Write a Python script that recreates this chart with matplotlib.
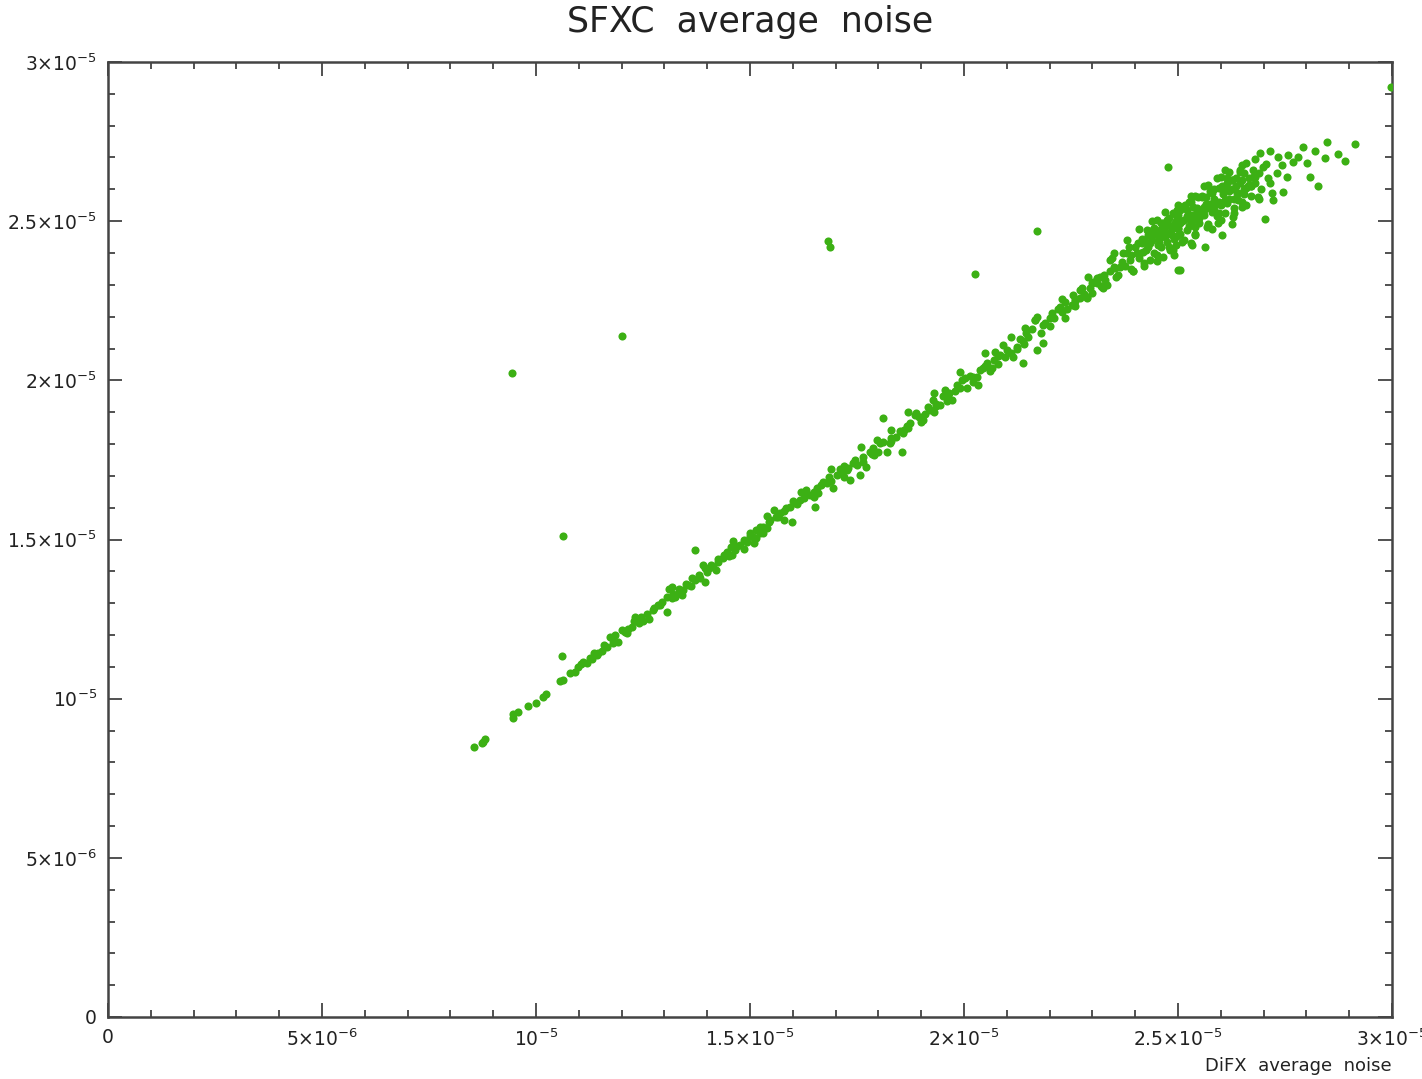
import matplotlib
matplotlib.use("Agg")
import matplotlib.pyplot as plt
from matplotlib.ticker import MultipleLocator, FixedLocator, FixedFormatter
import numpy as np

# valores em unidades de 1e-6 (DiFX no eixo x, SFXC no eixo y)
low_x = [8.54, 8.75, 8.81, 8.73, 9.47, 9.47, 9.59, 9.82, 10.00, 10.17, 10.23,
         10.56, 10.64, 10.79, 10.91, 10.99, 11.18, 11.26, 11.42, 11.65, 11.77,
         11.92, 12.12, 11.81, 11.73, 11.85, 12.08, 12.24, 12.31, 12.41, 12.65,
         12.74, 12.94, 13.05, 13.17, 13.17, 13.33, 13.44, 13.56, 13.71, 13.83,
         13.95, 13.99, 14.14, 14.26, 14.38, 14.46, 14.65, 14.77, 14.92, 15.08,
         15.23, 15.39, 14.57, 11.05, 11.35, 11.55, 12.50, 12.85, 13.25, 13.62,
         14.05, 14.50, 14.85, 15.15]
low_y = [8.47, 8.63, 8.73, 8.60, 9.38, 9.52, 9.59, 9.77, 9.86, 10.04, 10.15,
         10.56, 10.59, 10.80, 10.85, 11.01, 11.11, 11.27, 11.37, 11.63, 11.90,
         11.79, 12.05, 11.74, 11.95, 12.00, 12.10, 12.26, 12.56, 12.37, 12.49,
         12.79, 13.05, 12.73, 13.52, 13.15, 13.31, 13.42, 13.57, 13.73, 13.78,
         13.68, 13.99, 14.15, 14.30, 14.41, 14.62, 14.67, 14.83, 14.93, 15.09,
         15.20, 15.35, 14.51, 11.08, 11.42, 11.50, 12.45, 12.95, 13.20, 13.55,
         14.10, 14.48, 14.70, 15.05]

low2_x = [12.00, 12.15, 12.30, 12.45, 12.60, 12.75, 12.90, 13.05, 13.20, 13.35,
          13.50, 13.65, 13.80, 13.95, 14.10, 14.25, 14.40, 14.55, 14.70, 14.85,
          15.00, 15.15, 15.30, 11.60, 11.45, 11.30, 11.10]
low2_y = [12.15, 12.20, 12.45, 12.55, 12.65, 12.85, 12.95, 13.20, 13.30, 13.45,
          13.60, 13.80, 13.90, 14.10, 14.20, 14.40, 14.50, 14.75, 14.80, 15.00,
          15.10, 15.30, 15.40, 11.70, 11.45, 11.25, 11.15]

mid_x = [15.00, 15.23, 15.47, 15.70, 15.97, 15.93, 16.17, 16.40, 16.52, 16.56,
         16.79, 16.95, 17.03, 17.26, 17.41, 17.57, 17.65, 17.88, 18.04, 18.19,
         18.54, 18.42, 18.66, 15.55, 16.32, 17.34, 17.72, 17.96, 15.31, 18.27,
         18.58, 18.74, 18.89, 19.05, 19.21, 19.28, 19.44, 19.56, 19.71, 19.83,
         20.02, 20.06, 20.33, 20.37, 20.53, 20.69, 20.72, 20.92, 20.96, 21.15,
         21.23, 21.39, 21.39, 21.46, 21.66, 21.70, 21.85, 21.89, 15.80, 16.05,
         16.65, 16.90, 17.15, 17.50, 18.30, 18.95, 19.35, 19.62, 20.20, 20.85,
         15.60, 16.25, 17.80, 19.10, 20.45]
mid_y = [15.20, 15.40, 15.61, 15.82, 15.56, 16.03, 16.24, 16.40, 16.01, 16.61,
         16.77, 16.61, 17.03, 17.18, 17.40, 17.03, 17.60, 17.87, 18.02, 17.76,
         17.76, 18.23, 18.55, 15.93, 16.56, 16.87, 17.29, 18.13, 15.20, 18.02,
         18.34, 18.65, 18.97, 18.76, 19.07, 19.38, 19.23, 19.70, 19.38, 19.86,
         20.07, 19.75, 19.86, 20.33, 20.54, 20.64, 20.90, 21.11, 20.74, 20.74,
         21.06, 21.22, 20.54, 21.48, 21.90, 20.96, 21.17, 21.79, 15.90, 16.15,
         16.70, 16.85, 17.08, 17.35, 18.20, 18.85, 19.25, 19.55, 20.10, 20.80,
         15.70, 16.30, 17.75, 18.95, 20.40]

mid2_x = [15.45, 15.65, 15.85, 16.10, 16.30, 16.50, 16.70, 16.85, 17.10, 17.30,
          17.45, 17.65, 17.85, 18.10, 18.30, 18.50, 18.70, 18.85, 19.00, 19.15,
          19.35, 19.50, 19.65, 19.80, 19.95, 20.15, 20.30, 20.50, 20.65, 20.80,
          21.00, 21.10, 21.30, 21.50, 21.60, 21.80, 22.00, 16.00, 16.60, 17.20,
          17.90, 18.60, 19.30, 19.90, 20.60, 21.25]
mid2_y = [15.55, 15.70, 16.00, 16.10, 16.45, 16.50, 16.80, 16.95, 17.20, 17.25,
          17.50, 17.45, 17.70, 18.05, 18.10, 18.40, 18.50, 18.90, 18.85, 19.15,
          19.20, 19.50, 19.60, 19.65, 20.00, 20.15, 20.10, 20.45, 20.40, 20.75,
          20.95, 20.85, 21.30, 21.35, 21.60, 21.50, 21.95, 16.20, 16.45, 17.30,
          17.65, 18.45, 19.00, 19.75, 20.30, 21.00]

mid3_x = [13.10, 13.40, 13.90, 14.20, 14.60, 15.10, 15.40, 15.80, 16.20, 16.50,
          16.90, 17.20, 17.60, 18.00, 18.30, 18.70, 19.00, 19.30, 19.60, 19.90,
          20.20, 20.50, 20.80, 21.10, 21.40, 21.70, 22.00, 22.30, 22.60, 22.90,
          23.20]
mid3_y = [13.45, 13.25, 14.20, 14.05, 14.95, 14.90, 15.75, 15.60, 16.50, 16.35,
          17.20, 16.95, 17.90, 17.75, 18.45, 19.00, 18.70, 19.60, 19.35, 20.25,
          19.95, 20.85, 20.50, 21.35, 21.15, 22.00, 21.70, 22.55, 22.35, 23.25,
          22.95]

upper_x = [21.43, 21.66, 21.85, 22.05, 22.36, 22.36, 22.52, 22.71, 22.87, 22.98,
           23.25, 23.18, 23.41, 23.41, 23.64, 23.72, 23.88, 23.96, 24.11, 24.19,
           24.35, 24.50, 24.66, 24.74, 24.89, 25.01, 24.97, 22.55, 22.75, 22.87,
           23.02, 23.22, 23.26, 23.45, 23.53, 23.68, 23.80, 23.96, 22.20, 22.60,
           23.10, 22.10, 22.25, 22.40, 22.60, 22.80, 22.95, 23.10, 23.30, 23.50,
           23.60, 23.75, 23.85, 22.30, 22.70, 23.00, 23.35, 23.55]
upper_y = [21.64, 21.90, 21.74, 22.11, 21.95, 22.47, 22.37, 22.84, 22.63, 23.05,
           22.89, 23.26, 23.42, 23.78, 23.57, 23.99, 23.78, 23.42, 23.99, 24.41,
           23.78, 24.62, 23.88, 25.04, 24.10, 23.47, 25.35, 22.68, 22.89, 22.58,
           23.10, 22.94, 23.31, 23.84, 23.52, 23.73, 23.99, 23.42, 22.25, 22.55,
           23.05, 21.95, 22.30, 22.25, 22.50, 22.70, 22.90, 23.20, 23.15, 23.55,
           23.30, 23.60, 24.20, 22.15, 22.60, 22.75, 23.00, 23.25]

cloud_x = [24.07, 24.19, 24.27, 24.39, 24.50, 24.54, 24.66, 24.77, 24.81, 24.89,
           24.97, 25.05, 25.16, 25.20, 25.28, 25.32, 25.40, 25.47, 25.55, 25.63,
           25.67, 25.79, 25.83, 25.94, 26.02, 26.02, 26.10, 26.14, 26.25, 26.29,
           26.37, 26.45, 26.49, 26.60, 26.64, 26.76, 26.88, 26.92, 26.99, 27.03,
           27.15, 27.15, 27.23, 27.31, 27.34, 27.42, 27.46, 27.54, 27.58, 27.69,
           27.81, 27.93, 28.01, 28.08, 28.20, 28.28, 28.43, 28.47, 28.74, 28.90,
           29.14,
           23.90, 24.00, 24.10, 24.15, 24.25, 24.30, 24.35, 24.45, 24.45, 24.55,
           24.60, 24.60, 24.70, 24.75, 24.80, 24.85, 24.90, 24.95, 25.00, 25.05,
           25.10, 25.15, 25.20, 25.25, 25.30, 25.35, 25.40, 25.45, 25.50, 25.55,
           25.60, 25.65, 25.70, 25.75, 25.80, 25.85, 25.90, 25.95, 26.00, 26.05,
           26.10, 26.15, 26.20, 26.25, 26.30, 26.35, 26.40, 26.45, 26.50, 26.55,
           26.60, 26.65, 26.70, 26.75, 26.80, 26.90, 26.95, 27.05, 27.10, 24.20,
           24.50, 24.90, 25.30, 25.80, 26.25, 24.65, 25.00, 25.25, 25.60, 25.95,
           26.30, 26.70]
cloud_y = [24.31, 24.04, 24.73, 24.41, 25.04, 24.25, 24.62, 24.88, 24.10, 25.25,
           24.52, 24.94, 25.51, 24.73, 25.20, 24.25, 24.83, 25.77, 25.25, 24.20,
           24.83, 25.88, 25.35, 24.94, 24.57, 26.09, 26.61, 25.56, 26.30, 25.14,
           25.88, 26.61, 25.46, 26.82, 26.09, 26.40, 25.77, 27.13, 26.71, 25.06,
           27.19, 26.19, 25.67, 26.51, 27.03, 26.77, 25.93, 26.40, 27.08, 26.87,
           27.03, 27.32, 26.82, 26.40, 27.19, 26.09, 26.98, 27.50, 27.11, 26.90,
           27.42,
           23.95, 24.20, 23.85, 24.45, 24.10, 24.55, 24.30, 24.80, 24.00, 24.45,
           24.95, 24.20, 24.70, 24.35, 25.10, 24.55, 24.90, 24.25, 25.20, 24.60,
           25.00, 24.40, 25.35, 24.85, 25.60, 25.05, 24.55, 25.40, 24.95, 25.75,
           25.20, 25.55, 24.90, 25.95, 25.40, 25.70, 25.15, 26.05, 25.50, 25.85,
           25.25, 26.20, 25.70, 26.00, 25.40, 26.35, 25.90, 26.20, 25.60, 26.50,
           26.05, 26.35, 25.80, 26.60, 26.20, 26.50, 26.00, 26.80, 26.35, 23.60,
           23.75, 23.95, 24.30, 24.75, 24.90, 24.75, 24.75, 25.10, 25.45, 25.25,
           25.70, 26.10]

cloud2_x = [24.05, 24.25, 24.40, 24.55, 24.70, 24.85, 25.00, 25.15, 25.30, 25.45,
            25.60, 25.75, 25.90, 26.05, 26.20, 26.35, 26.50, 26.65, 26.80, 24.30,
            24.60, 24.90, 25.20, 25.50, 25.80, 26.10, 26.40, 26.70, 24.45, 24.75,
            25.05, 25.35, 25.65, 25.95, 26.25, 26.55, 25.10, 25.40, 25.70, 26.00,
            23.50, 23.80, 24.10, 24.40, 24.70, 25.00, 25.30, 25.60, 25.90, 26.20,
            26.50, 26.80, 23.90, 24.20, 24.50, 24.80, 25.10, 25.40, 25.70, 26.00,
            26.30, 26.60, 26.90, 27.20, 24.35, 24.65, 24.95, 25.25, 25.55, 25.85,
            26.15, 26.45, 24.15, 24.55, 24.95, 25.35, 25.75, 26.15, 26.55]
cloud2_y = [24.00, 24.35, 24.60, 24.30, 24.50, 24.75, 24.80, 25.05, 25.00, 25.30,
            25.35, 25.55, 25.55, 25.95, 25.95, 26.10, 26.30, 26.15, 26.40, 24.20,
            24.75, 24.45, 25.15, 25.10, 25.30, 25.65, 25.65, 26.10, 24.60, 24.60,
            25.35, 25.20, 25.75, 25.60, 26.30, 26.00, 25.45, 25.80, 26.15, 26.40,
            24.00, 24.40, 24.75, 25.00, 25.30, 25.50, 25.80, 26.10, 26.35, 26.55,
            26.75, 26.95, 23.50, 23.70, 23.95, 24.20, 24.35, 24.60, 24.85, 25.05,
            25.25, 25.50, 25.70, 25.90, 24.70, 24.95, 25.20, 25.60, 25.80, 26.00,
            26.35, 26.55, 24.30, 24.50, 25.00, 25.45, 25.40, 26.00, 25.85]

# pontos isolados
out_x = [9.44, 12.01, 10.64, 10.60, 13.71, 16.82, 16.87, 18.11, 20.26, 21.71,
         24.77, 25.05, 29.97]
out_y = [20.23, 21.40, 15.12, 11.35, 14.67, 24.38, 24.19, 18.81, 23.34, 24.69,
         26.71, 23.47, 29.20]

xtick_vals = [0, 5, 10, 15, 20, 25, 30]
xtick_labels = ['0', r'$5{\times}10^{-6}$', r'$10^{-5}$', r'$1.5{\times}10^{-5}$',
                r'$2{\times}10^{-5}$', r'$2.5{\times}10^{-5}$', r'$3{\times}10^{-5}$']
ytick_vals = xtick_vals
ytick_labels = xtick_labels

plt.rcParams['mathtext.fontset'] = 'dejavusans'
plt.rcParams['font.family'] = 'DejaVu Sans'

fig = plt.figure(figsize=(14.22, 10.79), dpi=100)
ax = fig.add_axes([108 / 1422, 1 - 1017 / 1079, (1392 - 108) / 1422, (1017 - 62) / 1079])

verde = '#3cb014'
for xs, ys in [(low_x, low_y), (low2_x, low2_y), (mid_x, mid_y), (mid2_x, mid2_y),
               (mid3_x, mid3_y), (upper_x, upper_y), (cloud_x, cloud_y),
               (cloud2_x, cloud2_y), (out_x, out_y)]:
    ax.scatter(np.array(xs), np.array(ys), s=34, color=verde, linewidths=0, zorder=3)

ax.set_xlim(0, 30)
ax.set_ylim(0, 30)

ax.xaxis.set_major_locator(FixedLocator(xtick_vals))
ax.xaxis.set_major_formatter(FixedFormatter(xtick_labels))
ax.yaxis.set_major_locator(FixedLocator(ytick_vals))
ax.yaxis.set_major_formatter(FixedFormatter(ytick_labels))
ax.xaxis.set_minor_locator(MultipleLocator(1))
ax.yaxis.set_minor_locator(MultipleLocator(1))

ax.tick_params(which='both', direction='in', top=True, right=True, color='#333333', width=1.2)
ax.tick_params(which='major', length=10, labelsize=13.5, pad=8, labelcolor='#222222')
ax.tick_params(which='minor', length=5)
for sp in ax.spines.values():
    sp.set_linewidth(1.8)
    sp.set_color('#444444')

# titulo no topo (posicao fixa como na figura original)
fig.text(750 / 1422, 1 - 22 / 1079, "SFXC  average  noise", ha='center', va='center',
         fontsize=25, color='#222222')
fig.text(1392 / 1422, 1 - 1066 / 1079, "DiFX  average  noise", ha='right', va='center',
         fontsize=13, color='#222222')

fig.savefig("out.png", dpi=100)
